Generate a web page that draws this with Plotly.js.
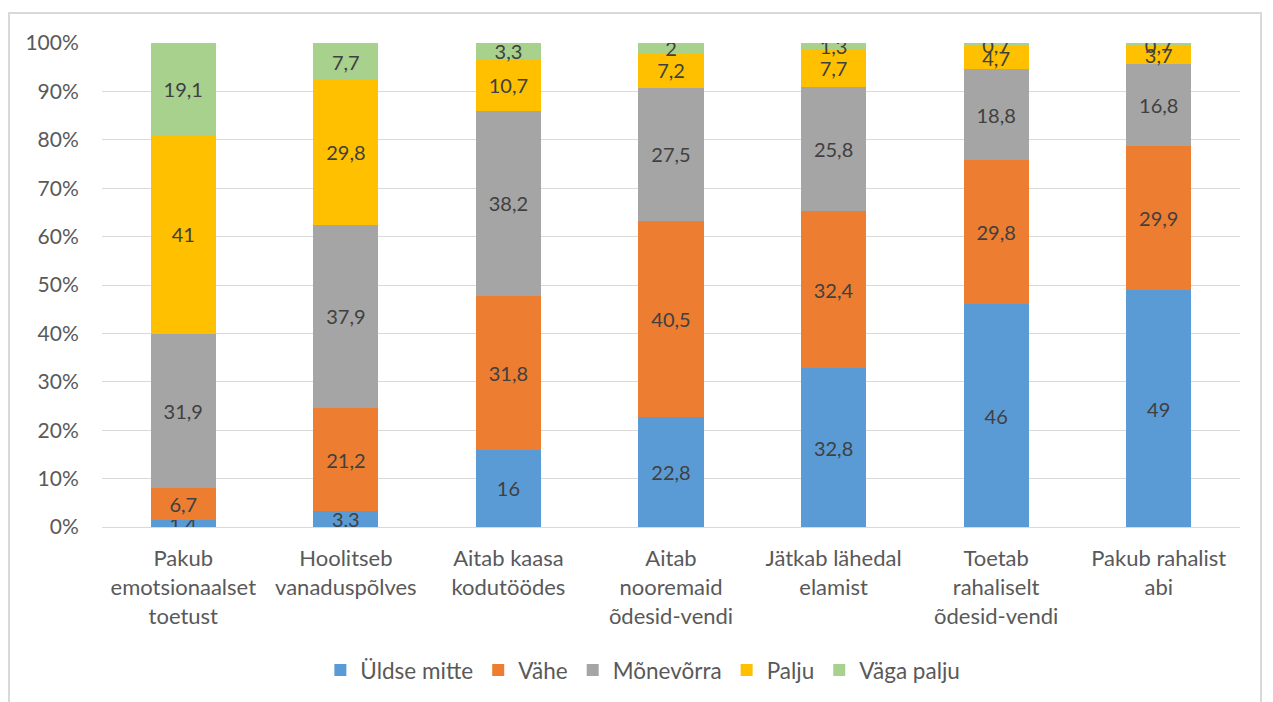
<!DOCTYPE html>
<html>
<head>
<meta charset="utf-8">
<script src="https://cdn.plot.ly/plotly-3.0.1.min.js"></script>
<style>
html,body{margin:0;padding:0;background:#fff;overflow:hidden;}
#frame{position:absolute;left:8px;top:12px;width:1254px;height:720px;border:2px solid #d9d9d9;box-sizing:border-box;}
#chart{position:absolute;left:0;top:0;width:1273px;height:702px;}
</style>
</head>
<body>
<div id="frame"></div>
<div id="chart"></div>
<script>
const categories = [
  "Pakub<br>emotsionaalset<br>toetust",
  "Hoolitseb<br>vanaduspõlves",
  "Aitab kaasa<br>kodutöödes",
  "Aitab<br>nooremaid<br>õdesid-vendi",
  "Jätkab lähedal<br>elamist",
  "Toetab<br>rahaliselt<br>õdesid-vendi",
  "Pakub rahalist<br>abi"
];
const seriesNames = ["Üldse mitte", "Vähe", "Mõnevõrra", "Palju", "Väga palju"];
const uldseMitte = [1.4, 3.3, 16, 22.8, 32.8, 46, 49];
const vahe = [6.7, 21.2, 31.8, 40.5, 32.4, 29.8, 29.9];
const monevorra = [31.9, 37.9, 38.2, 27.5, 25.8, 18.8, 16.8];
const palju = [41, 29.8, 10.7, 7.2, 7.7, 4.7, 3.7];
const vagaPalju = [19.1, 7.7, 3.3, 2, 1.3, 0.7, 0.7];
const colors = ["#5B9BD5", "#ED7D31", "#A5A5A5", "#FFC000", "#A9D18E"];
const seriesValues = [uldseMitte, vahe, monevorra, palju, vagaPalju];

const fontFam = "Lato, 'Open Sans', sans-serif";
const traces = seriesValues.map((vals, i) => ({
  type: "bar",
  name: seriesNames[i],
  x: categories,
  y: vals,
  text: vals.map(v => String(v).replace(".", ",")),
  textposition: "inside",
  insidetextanchor: "middle",
  textangle: 0,
  textfont: {family: fontFam, size: 20, color: "#404040"},
  marker: {color: colors[i], line: {width: 0}},
  hoverinfo: "skip"
}));

const layout = {
  width: 1273, height: 702,
  margin: {l: 102, r: 33, t: 43, b: 175},
  barmode: "stack",
  barnorm: "percent",
  bargap: 0.6,
  paper_bgcolor: "rgba(0,0,0,0)",
  plot_bgcolor: "rgba(0,0,0,0)",
  font: {family: fontFam, size: 20, color: "#595959"},
  uniformtext: {mode: "show", minsize: 20},
  showlegend: true,
  legend: {orientation: "h", xref: "container", yref: "container",
           x: 0.505, xanchor: "center", y: 0.045, yanchor: "middle",
           font: {family: fontFam, size: 22.5, color: "#595959"}, traceorder: "normal", itemwidth: 30},
  xaxis: {
    type: "category",
    automargin: false,
    showgrid: false,
    showline: true, linecolor: "#d9d9d9", linewidth: 1,
    ticks: "outside", ticklen: 12, tickcolor: "rgba(0,0,0,0)",
    tickfont: {family: fontFam, size: 22, color: "#595959"},
    fixedrange: true
  },
  yaxis: {
    automargin: false,
    range: [0, 100],
    dtick: 10,
    ticksuffix: "%",
    showgrid: true, gridcolor: "#d9d9d9", gridwidth: 1,
    zeroline: false,
    showline: false,
    ticks: "outside", ticklen: 18, tickcolor: "rgba(0,0,0,0)",
    tickfont: {family: fontFam, size: 21, color: "#595959"},
    fixedrange: true
  }
};

Plotly.newPlot("chart", traces, layout, {displayModeBar: false, staticPlot: true});
</script>
</body>
</html>
